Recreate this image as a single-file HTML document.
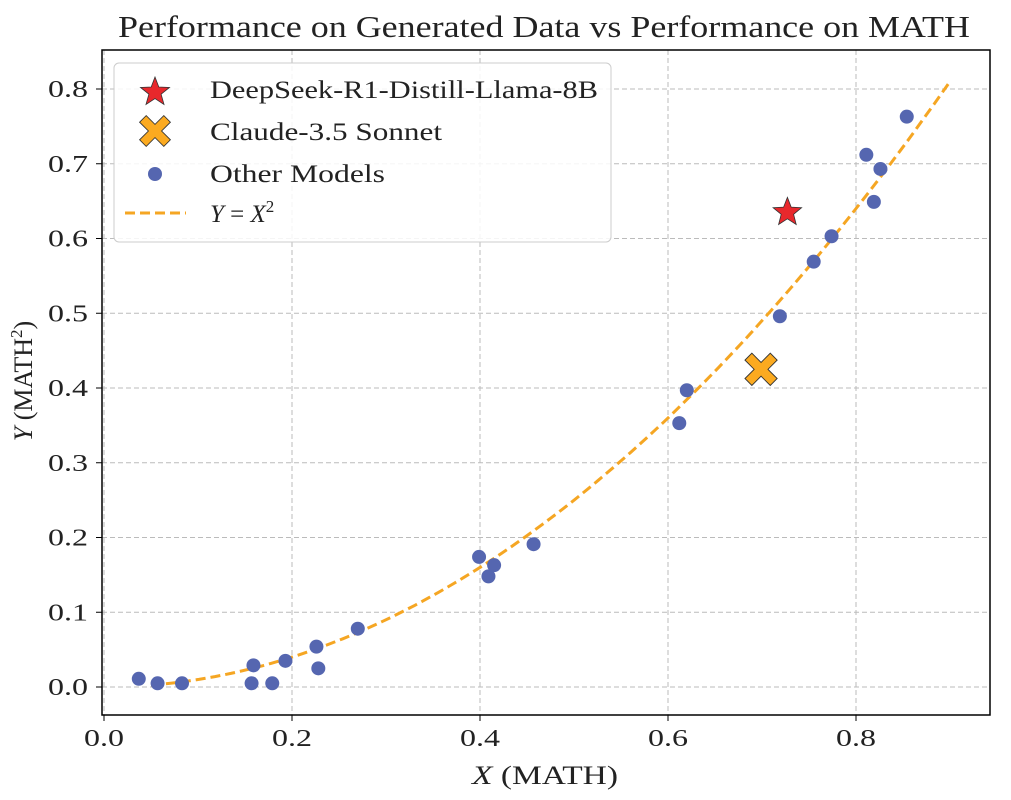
<!DOCTYPE html>
<html><head><meta charset="utf-8">
<style>
body{margin:0;background:#fff;}
svg text{font-family:"Liberation Serif","DejaVu Serif",serif;fill:#222;}
</style></head>
<body>
<svg id="chart" width="1011" height="795" xmlns="http://www.w3.org/2000/svg">
<text x="118" y="37" font-size="31" textLength="852" lengthAdjust="spacingAndGlyphs">Performance on Generated Data vs Performance on MATH</text>
<g id="grid"></g>
<g id="curve"></g>
<g id="points"></g>
<rect x="102" y="50" width="888" height="665" fill="none" stroke="#000" stroke-width="1.5"/>
<g id="ticks"></g>
<text x="472" y="784" font-size="26" textLength="146" lengthAdjust="spacingAndGlyphs"><tspan font-style="italic">X</tspan> (MATH)</text>
<text transform="translate(32,381) rotate(-90)" font-size="26" text-anchor="middle"><tspan font-style="italic">Y</tspan> (MATH<tspan font-size="17" dy="-10">2</tspan><tspan dy="10">)</tspan></text>
<g>
<rect x="114" y="63" width="497" height="179" rx="5" fill="#fff" fill-opacity="0.85" stroke="#ccc"/>
<polygon points="155,77 158.8,87 169.5,87.5 161.1,94.2 164,104.5 155,98.6 146,104.5 148.9,94.2 140.5,87.5 151.2,87" fill="#e8282c" stroke="#333" stroke-width="0.8"/>
<path d="M-14,-8 L-8,-14 L0,-6 L8,-14 L14,-8 L6,0 L14,8 L8,14 L0,6 L-8,14 L-14,8 L-6,0 Z" transform="translate(155,131) scale(1.1)" fill="#fbaa20" stroke="#333" stroke-width="0.8"/>
<text x="210" y="98" font-size="25" textLength="388" lengthAdjust="spacingAndGlyphs">DeepSeek-R1-Distill-Llama-8B</text>
<text x="210" y="140" font-size="25" textLength="232" lengthAdjust="spacingAndGlyphs">Claude-3.5 Sonnet</text>
<circle cx="155" cy="174" r="7" fill="#5566b0"/>
<text x="210" y="182" font-size="25" textLength="175" lengthAdjust="spacingAndGlyphs">Other Models</text>
<line x1="125" y1="213" x2="186" y2="213" stroke="#f5a623" stroke-width="3" stroke-dasharray="10,5"/>
<text x="210" y="222" font-size="25"><tspan font-style="italic">Y</tspan> = <tspan font-style="italic">X</tspan><tspan font-size="17" dy="-10">2</tspan></text>
</g>
</svg>
<script>
const xTicks=[0.0,0.2,0.4,0.6,0.8];
const yTicks=[0.0,0.1,0.2,0.3,0.4,0.5,0.6,0.7,0.8];
const otherX=[0.037,0.057,0.083,0.159,0.157,0.179,0.193,0.226,0.228,0.270,0.399,0.409,0.415,0.457,0.612,0.620,0.719,0.755,0.774,0.811,0.826,0.819,0.854];
const otherY=[0.011,0.005,0.005,0.029,0.005,0.005,0.035,0.054,0.025,0.078,0.174,0.148,0.163,0.191,0.353,0.397,0.496,0.569,0.603,0.712,0.693,0.649,0.763];
const deepseek=[0.727,0.635];
const claude=[0.699,0.425];
const curveRange=[0.05,0.9];
const NS="http://www.w3.org/2000/svg";
const sx=v=>104+v*940, sy=v=>687-v*747.5;
function mk(tag,attrs,parent){const e=document.createElementNS(NS,tag);for(const k in attrs)e.setAttribute(k,attrs[k]);parent.appendChild(e);return e;}
const grid=document.getElementById('grid'),ticks=document.getElementById('ticks'),pts=document.getElementById('points'),cv=document.getElementById('curve');
xTicks.forEach(t=>{
 const g=mk('line',{x1:sx(t),x2:sx(t),y1:50,y2:715,stroke:'#bbb','stroke-dasharray':'5,3'},grid);
 
 
 const tk=mk('line',{x1:sx(t),x2:sx(t),y1:715,y2:721,stroke:'#000'},ticks);
 
 
 const l=mk('text',{x:sx(t),y:746,'font-size':24,'text-anchor':'middle',textLength:40,lengthAdjust:'spacingAndGlyphs'},ticks);l.textContent=t.toFixed(1);
 
 
});
yTicks.forEach(t=>{
 const g=mk('line',{x1:102,x2:990,y1:sy(t),y2:sy(t),stroke:'#bbb','stroke-dasharray':'5,3'},grid);
 
 
 const tk=mk('line',{x1:96,x2:102,y1:sy(t),y2:sy(t),stroke:'#000'},ticks);
 
 
 const l=mk('text',{x:48,y:sy(t)+8,'font-size':24,textLength:40,lengthAdjust:'spacingAndGlyphs'},ticks);l.textContent=t.toFixed(1);
 
 
});
let d='';for(let i=0;i<=100;i++){const x=curveRange[0]+(curveRange[1]-curveRange[0])*i/100;d+=(i?'L':'M')+sx(x).toFixed(1)+','+sy(x*x).toFixed(1);}
const path=mk('path',{d:d,fill:'none',stroke:'#f5a623','stroke-width':3,'stroke-dasharray':'10,5'},cv);


otherX.forEach((x,i)=>{
 const c=mk('circle',{cx:sx(x),cy:sy(otherY[i]),r:7,fill:'#5566b0'},pts);
 
 
});
let sp='';for(let i=0;i<10;i++){const r=i%2?6.5:15,a=-Math.PI/2+i*Math.PI/5;sp+=(sx(deepseek[0])+r*Math.cos(a)).toFixed(1)+','+(sy(deepseek[1])+r*Math.sin(a)).toFixed(1)+' ';}
const star=mk('polygon',{points:sp,fill:'#e8282c',stroke:'#333','stroke-width':0.8},pts);


const cx=mk('path',{d:'M-14,-8 L-8,-14 L0,-6 L8,-14 L14,-8 L6,0 L14,8 L8,14 L0,6 L-8,14 L-14,8 L-6,0 Z',transform:`translate(${sx(claude[0])},${sy(claude[1])}) scale(1.15)`,fill:'#fbaa20',stroke:'#333','stroke-width':0.8},pts);


</script>
</body></html>
